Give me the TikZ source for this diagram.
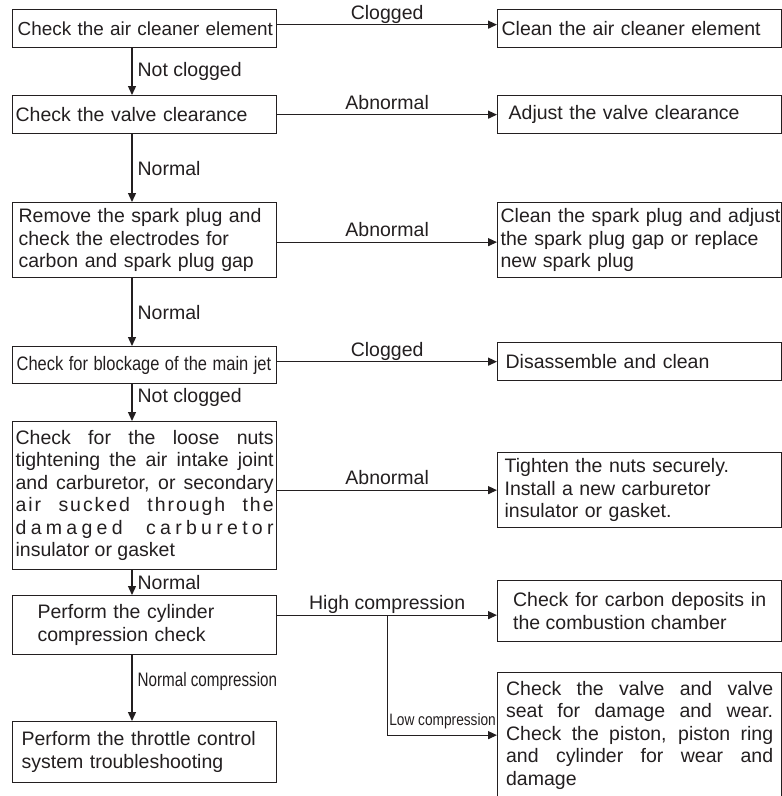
\documentclass[tikz,border=0pt]{standalone}
\usepackage{fontspec}
\setmainfont{Liberation Sans}
\usepackage{tikz}
\usetikzlibrary{arrows.meta, calc}
\definecolor{ink}{RGB}{35, 31, 32}
\tolerance=9999 \hbadness=10000 \hyphenpenalty=10000 \exhyphenpenalty=10000
\tikzset{
    stepbox/.style={rectangle, draw=ink, line width=1.3pt, anchor=north west, inner ysep=0pt, align=left, text=ink, font=\fontsize{19.5}{22.5}\selectfont},
    line/.style={draw=ink, line width=1.3pt, -{Triangle[length=9pt, width=8pt]}},
    tag/.style={above, text=ink, font=\fontsize{19.5}{22.5}\selectfont, text depth=0pt, inner ysep=5pt},
    side/.style={right, text=ink, font=\fontsize{19.5}{22.5}\selectfont, inner xsep=5pt}
}

\begin{document}
\begin{tikzpicture}[x=1pt, y=-1pt]
        \path[use as bounding box, fill=white] (0,0) rectangle (782,796);

        % Checks
        \node[stepbox, text width=254pt, inner xsep=5pt, minimum height=38pt, font=\fontsize{18.9}{22.5}\selectfont] (aircheck) at (12,9) {\mbox{Check the air cleaner element}};
        \node[stepbox, text width=258pt, inner xsep=3pt, minimum height=38pt] (valvecheck) at (12,95) {Check the valve clearance};
        \node[stepbox, text width=252pt, inner xsep=6pt, minimum height=75pt] (plugcheck) at (12,202) {Remove the spark plug and\\check the electrodes for\\carbon and spark plug gap};
        \node[stepbox, text width=256pt, inner xsep=4pt, minimum height=37pt] (jetcheck) at (12,346) {\scalebox{0.845}[1]{Check for blockage of the main jet}};
        \node[stepbox, text width=258pt, inner xsep=3pt, minimum height=148pt, align=justify] (leakcheck) at (12,421) {Check for the loose nuts\linebreak tightening the air intake joint\linebreak and carburetor, or secondary\linebreak {\addfontfeatures{LetterSpace=10}air sucked through the}\linebreak {\addfontfeatures{LetterSpace=22}damaged carburetor}\linebreak insulator or gasket};
        \node[stepbox, text width=214pt, inner xsep=25pt, minimum height=59pt] (compcheck) at (12,595) {Perform the cylinder\\compression check};
        \node[stepbox, text width=246pt, inner xsep=9pt, minimum height=61pt] (throttle) at (12,721) {Perform the throttle control\\system troubleshooting};

        % Remedies
        \node[stepbox, text width=276pt, inner xsep=4pt, minimum height=38pt] (airfix) at (497,9) {Clean the air cleaner element};
        \node[stepbox, text width=262pt, inner xsep=11pt, minimum height=38pt] (valvefix) at (497,95) {Adjust the valve clearance};
        \node[stepbox, text width=278pt, inner xsep=3pt, minimum height=75pt] (plugfix) at (497,202) {\mbox{Clean the spark plug and adjust}\\the spark plug gap or replace\\new spark plug};
        \node[stepbox, text width=268pt, inner xsep=8pt, minimum height=38pt] (jetfix) at (497,342) {Disassemble and clean};
        \node[stepbox, text width=270pt, inner xsep=7pt, minimum height=75pt] (leakfix) at (497,452) {Tighten the nuts securely.\\Install a new carburetor\\insulator or gasket.};
        \node[stepbox, text width=253pt, inner xsep=15.5pt, minimum height=61pt, align=justify] (carbonfix) at (497,580) {\parfillskip=0pt Check for carbon deposits in\linebreak the combustion chamber};
        \node[stepbox, text width=267pt, inner xsep=8.5pt, minimum height=125pt, align=justify] (wearfix) at (497,672) {Check the valve and valve\linebreak seat for damage and wear.\linebreak Check the piston, piston ring\linebreak and cylinder for wear and\linebreak damage};

        % Main line
        \coordinate (spine) at (132,0);
        \draw[line] (aircheck.south -| spine) -- node[side]{Not clogged} (valvecheck.north -| spine);
        \draw[line] (valvecheck.south -| spine) -- node[side]{Normal} (plugcheck.north -| spine);
        \draw[line] (plugcheck.south -| spine) -- node[side]{Normal} (jetcheck.north -| spine);
        \draw[line] (jetcheck.south -| spine) -- node[side, pos=0.35]{Not clogged} (leakcheck.north -| spine);
        \draw[line] (leakcheck.south -| spine) -- node[side]{Normal} (compcheck.north -| spine);
        \draw[line] (compcheck.south -| spine) -- node[side, pos=0.4]{\scalebox{0.78}[1]{Normal compression}} (throttle.north -| spine);

        % Branches
        \draw[line] ([yshift=4pt]aircheck.east) -- node[tag]{Clogged} ([yshift=4pt]airfix.west);
        \draw[line] (valvecheck.east) -- node[tag]{Abnormal} (valvefix.west);
        \draw[line] ([yshift=-2pt]plugcheck.east) -- node[tag]{Abnormal} ([yshift=-2pt]plugcheck.east -| plugfix.west);
        \draw[line] (jetcheck.east |- jetfix.west) -- node[tag]{Clogged} (jetfix.west);
        \draw[line] (leakcheck.east |- leakfix.west) -- node[tag]{Abnormal} (leakfix.west);
        \coordinate (highin) at ([yshift=-4pt]carbonfix.west);
        \draw[line] (compcheck.east |- highin) -- node[tag]{High compression} coordinate[pos=0.5] (fork) (highin);
        \draw[line] (fork) |- node[pos=0.5, anchor=south west, inner xsep=1.5pt, inner ysep=9.5pt, text depth=0pt, text=ink, font=\fontsize{16.5}{19}\selectfont]{\scalebox{0.83}[1]{Low compression}} (wearfix.west);

    \end{tikzpicture}
\end{document}
